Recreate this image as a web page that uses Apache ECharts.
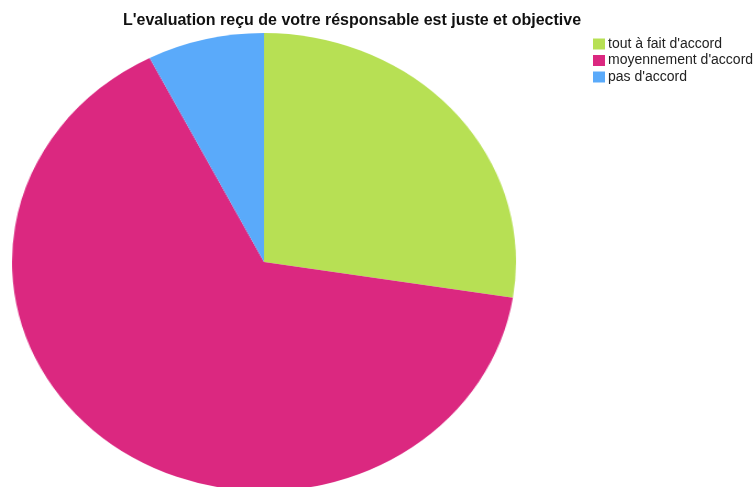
<!DOCTYPE html>
<html>
<head>
<meta charset="utf-8">
<script src="https://cdn.jsdelivr.net/npm/echarts@6/dist/echarts.min.js"></script>
<style>
  html, body { margin: 0; padding: 0; background: #ffffff; }
  #wrap { position: relative; width: 756px; height: 487px; overflow: hidden; }
  #pie, #front { position: absolute; left: 0; top: 0; width: 756px; height: 487px; }
  /* the pie is drawn slightly wider than tall */
  #pie { transform: scaleX(1.1004); transform-origin: 264px 262px; }
</style>
</head>
<body>
<div id="wrap">
  <div id="pie"></div>
  <div id="front"></div>
</div>
<script>
const titleText = "L'evaluation reçu de votre résponsable est juste et objective";
const categories = ["tout à fait d'accord", "moyennement d'accord", "pas d'accord"];
const counts = [11, 26, 3];
const colors = ["#b7e054", "#db2880", "#5aaafa"];

const pieData = categories.map((name, i) => ({
  name: name,
  value: counts[i],
  itemStyle: { color: colors[i] }
}));

const pieChart = echarts.init(document.getElementById('pie'), null, { renderer: 'canvas' });
pieChart.setOption({
  animation: false,
  series: [{
    type: 'pie',
    center: [264, 262],
    radius: 229,
    startAngle: 90,
    clockwise: true,
    label: { show: false },
    labelLine: { show: false },
    emphasis: { disabled: true },
    itemStyle: { borderWidth: 0 },
    data: pieData
  }]
});

const frontChart = echarts.init(document.getElementById('front'), null, { renderer: 'canvas' });
frontChart.setOption({
  animation: false,
  title: {
    text: titleText,
    left: 352,
    textAlign: 'center',
    top: 13,
    padding: 0,
    textStyle: {
      fontFamily: 'Liberation Sans, Arial, sans-serif',
      fontSize: 16,
      fontWeight: 'bold',
      color: '#111111'
    }
  },
  legend: {
    orient: 'vertical',
    left: 593,
    top: 37,
    padding: 0,
    itemWidth: 12,
    itemHeight: 11,
    itemGap: 2.5,
    icon: 'rect',
    selectedMode: false,
    textStyle: {
      fontFamily: 'Liberation Sans, Arial, sans-serif',
      fontSize: 14,
      lineHeight: 14,
      color: '#222222',
      padding: [0, 0, 0, -2]
    },
    data: categories
  },
  series: [{
    type: 'pie',
    silent: true,
    radius: [0, 0],
    center: [-100, -100],
    label: { show: false },
    labelLine: { show: false },
    data: pieData
  }]
});
</script>
</body>
</html>
